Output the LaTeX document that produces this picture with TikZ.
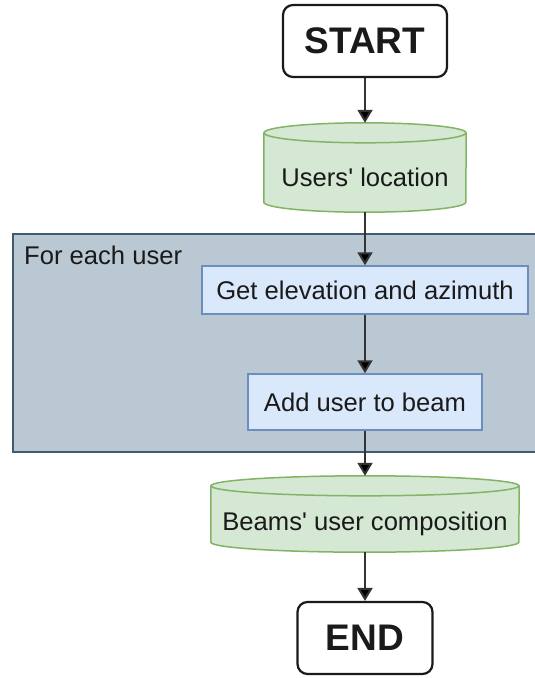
\documentclass[tikz,border=0pt]{standalone}
\usepackage{fontspec}
\setmainfont{Liberation Sans}
\usetikzlibrary{arrows.meta,backgrounds}

\definecolor{inkc}{HTML}{1A1A1A}
\definecolor{arrowc}{HTML}{333333}
\definecolor{procfill}{HTML}{DAE8FC}
\definecolor{procline}{HTML}{6C8EBF}
\definecolor{storefill}{HTML}{D5E8D4}
\definecolor{storeline}{HTML}{82B366}
\definecolor{loopfill}{HTML}{BAC8D3}
\definecolor{loopline}{HTML}{3F5A70}

% drum (database) outline around a named node: #1 node, #2 half width, #3 cap radius
\newcommand\drawdrum[3]{%
  \fill[storefill] ([yshift=-#3]#1.north west) -- ([yshift=#3]#1.south west)
    arc[start angle=180,end angle=360,x radius=#2,y radius=#3]
    -- ([yshift=-#3]#1.north east)
    arc[start angle=0,end angle=180,x radius=#2,y radius=#3] -- cycle;
  \draw[storeline,line width=1.5pt] ([yshift=-#3]#1.north west) -- ([yshift=#3]#1.south west)
    arc[start angle=180,end angle=360,x radius=#2,y radius=#3]
    -- ([yshift=-#3]#1.north east);
  \draw[storeline,line width=1.5pt] ([yshift=-#3]#1.north) ellipse[x radius=#2,y radius=#3];
}

\begin{document}
\begin{tikzpicture}[x=1pt,y=-1pt,
  term/.style={draw=inkc, line width=2.2pt, rounded corners=10pt, fill=white,
    font=\fontsize{37}{40}\selectfont\bfseries, text=inkc, inner sep=0pt},
  proc/.style={draw=procline, fill=procfill, line width=1.5pt, inner sep=0pt,
    font=\fontsize{25.6}{28}\selectfont, text=inkc},
  holder/.style={inner sep=0pt, draw=none},
  txt/.style={inner sep=0pt, font=\fontsize{25.6}{28}\selectfont, text=inkc},
  flow/.style={draw=arrowc, line width=2pt, -{Triangle[length=13pt,width=15pt,fill=black]}}]

\clip (0,0) rectangle (535,678);

% terminals
\node[term, minimum width=164pt, minimum height=72pt] (start) at (365,41) {START};
\node[term, minimum width=135pt, minimum height=72pt] (end) at (365,638) {END};

% data stores
\node[holder, minimum width=202pt, minimum height=89pt] (loc) at (365,167.5) {};
\node[txt] (loctext) at ([yshift=-10pt]loc.center) {Users\textquotesingle\ location};
\node[holder, minimum width=308pt, minimum height=76pt] (comp) at (365,514) {};
\node[txt] (comptext) at ([yshift=-10pt]comp.center) {Beams\textquotesingle\ user composition};

% loop body
\node[proc, minimum width=326pt, minimum height=48pt] (get) at (365,290) {Get elevation and azimuth};
\node[proc, minimum width=234pt, minimum height=56pt] (add) at (365,402) {Add user to beam};
\node[txt, anchor=base west] (looplabel) at (24,264) {For each user};

\begin{scope}[on background layer]
  \node[draw=loopline, fill=loopfill, line width=2pt, inner sep=0pt,
        minimum width=540pt, minimum height=218pt, anchor=north west] (loop) at (12,233) {};
  \drawdrum{loc}{101pt}{10pt}
  \drawdrum{comp}{154pt}{10pt}
\end{scope}

% connectors
\draw[flow] (start.south) -- (loc.north);
\draw[flow] (loc.south) -- (get.north);
\draw[flow] (get.south) -- (add.north);
\draw[flow] (add.south) -- (comp.north);
\draw[flow] (comp.south) -- (end.north);
\end{tikzpicture}
\end{document}
